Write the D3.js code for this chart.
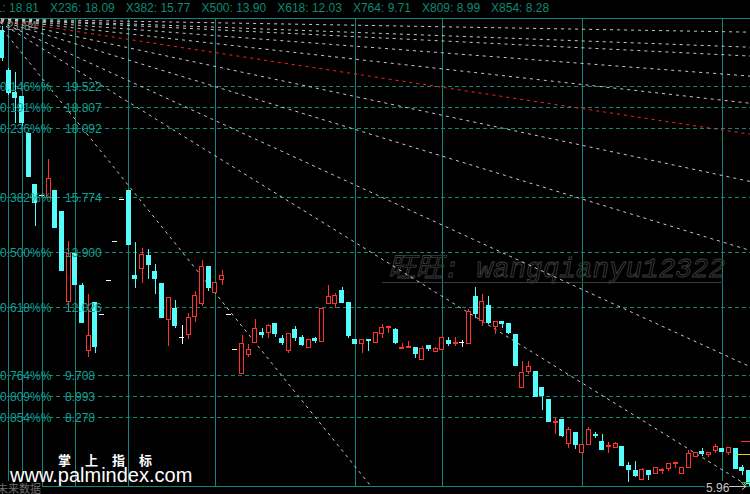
<!DOCTYPE html>
<html><head><meta charset="utf-8">
<script src="https://cdn.jsdelivr.net/npm/d3@7"></script>
<style>html,body{margin:0;padding:0;background:#000;overflow:hidden}</style>
</head><body>
<svg id="c" width="750" height="494"></svg>
<script>
// ---------------- DATA ----------------
const opens  = [21.43,20.07,19.33,19.19,17.93,16.20,15.83,15.76,16.00,15.28,12.23,13.86,12.77,10.56,12.19,11.79,12.94,14.27,15.69,16.00,
13.11,13.35,13.79,13.25,12.84,11.62,11.99,11.00,11.11,11.72,12.16,13.42,12.53,12.97,11.79,10.60,9.78,10.43,10.83,11.17,
11.17,11.48,10.97,10.56,11.28,11.00,10.66,10.97,10.87,12.16,12.16,12.60,12.19,10.94,10.80,10.94,10.83,11.14,11.34,11.28,
10.63,10.66,10.66,10.26,10.73,10.53,10.60,10.90,10.80,10.83,10.80,12.40,11.58,12.09,11.38,11.55,11.48,11.11,9.31,9.85,
9.85,9.31,8.90,8.12,8.22,7.40,7.78,7.10,7.37,7.71,7.47,7.30,7.27,7.30,6.66,6.49,6.18,6.49,6.38,6.49,
6.55,6.72,6.38,6.59,6.96,7.13,7.03,7.17,7.23,7.10,7.23,6.59,6.49];
const highs  = [21.57,20.14,20.01,19.19,17.93,16.20,15.83,17.05,16.00,15.28,14.27,13.89,12.84,12.47,12.19,11.79,12.94,14.27,15.69,16.00,
14.23,14.03,13.99,13.48,12.84,12.36,12.26,11.41,11.82,12.57,13.62,13.42,12.87,13.28,11.79,10.60,11.07,10.77,11.62,11.31,
11.45,11.48,11.07,11.14,11.38,11.07,10.94,11.00,11.99,12.77,12.50,12.70,12.19,10.94,10.94,10.94,11.17,11.45,11.38,11.31,
10.80,10.87,10.66,10.70,10.73,10.66,11.00,11.00,11.00,10.90,11.96,12.70,12.47,12.40,11.55,11.55,11.48,11.11,10.19,10.19,
9.85,9.31,8.90,8.29,8.22,7.95,7.78,7.37,7.95,7.78,7.71,7.44,7.44,7.30,6.76,6.79,6.55,6.49,6.59,6.55,
6.72,6.76,6.59,7.17,7.10,7.23,7.10,7.37,7.23,7.27,7.23,6.66,6.49];
const lows   = [20.41,19.26,18.31,18.21,16.47,14.81,15.83,15.76,14.74,13.28,11.92,12.80,11.51,10.36,10.49,11.79,12.94,14.27,15.69,14.16,
12.70,12.87,13.01,12.50,11.68,10.73,11.34,10.80,10.97,11.55,12.09,12.60,12.53,12.80,11.79,10.60,9.78,10.36,10.83,11.00,
11.00,11.04,10.77,10.49,10.90,10.73,10.66,10.83,10.87,12.16,12.02,12.19,11.00,10.80,10.49,10.56,10.83,11.00,11.17,10.80,
10.63,10.66,10.32,10.26,10.56,10.53,10.60,10.73,10.73,10.70,10.80,11.68,11.41,11.48,11.14,11.34,11.14,10.05,9.31,9.78,
9.00,8.56,8.15,7.74,7.64,7.27,7.23,7.10,7.37,7.61,7.20,7.10,7.27,6.66,6.11,6.28,6.18,6.18,6.38,6.38,
6.49,6.59,6.38,6.59,6.96,7.00,6.96,7.10,7.13,7.03,6.55,6.35,5.96];
const closes = [20.52,19.33,19.16,18.31,16.47,15.59,15.83,16.41,14.74,13.28,13.86,12.80,11.51,11.07,10.70,11.79,12.94,14.27,15.69,14.16,
13.01,13.82,13.48,13.01,11.68,12.36,11.41,11.00,11.68,12.43,13.42,12.70,12.87,13.11,11.79,10.60,10.80,10.60,11.31,11.11,
11.41,11.14,10.83,11.14,11.00,10.77,10.94,10.90,11.99,12.40,12.43,12.19,11.07,10.80,10.94,10.90,11.17,11.34,11.38,10.83,
10.66,10.70,10.46,10.63,10.63,10.63,11.00,10.80,10.83,10.83,11.89,11.82,12.23,11.51,11.55,11.48,11.17,10.05,9.82,10.02,
9.00,9.03,8.15,8.15,7.68,7.88,7.37,7.37,7.88,7.68,7.20,7.34,7.40,6.66,6.52,6.32,6.52,6.35,6.59,6.52,
6.72,6.76,6.59,7.06,7.10,7.06,7.10,7.30,7.13,7.27,6.55,6.49,6.05];

const rangeHigh = 21.84;
const rangeLow  = 5.96;
const fibRatios = [0.146,0.191,0.236,0.382,0.500,0.618,0.764,0.809,0.854];
const fibValues = [19.522,18.807,18.092,15.774,13.900,12.026,9.708,8.993,8.278];

const headerLabels = ["X191","X236","X382","X500","X618","X764","X809","X854"];
const headerValues = [18.81,18.09,15.77,13.90,12.03,9.71,8.99,8.28];

const timeZoneBars = [1,3,6,11,19,32,53,66,87,108];

const fanOriginBar = -1.1, fanOriginPrice = 21.81;
const fanEndPrices = [21.36,20.85,20.55,19.87,18.95,17.90,16.30,13.96,10.02,5.94,-9.97]; // price at last bar
const fanIsRed     = [false,false,false,false,false,true,false,false,false,false,false];

const markerPrices = [7.47,7.03,6.08];
const markerColors = ["#ff2a2a","#d8d800","#10d010"];

// ---------------- CHART ----------------
const W=750,H=494, plotTop=18, plotBottom=486;
const svg=d3.select('#c');
svg.append('rect').attr('width',W).attr('height',H).attr('fill','#000');
const x=d3.scaleLinear().domain([0,112]).range([1.5,748.5]);
const y=d3.scaleLinear().domain([rangeHigh,rangeLow]).range([18,485.5]);
const px=v=>Math.round(v)+0.5;
const defs=svg.append('defs');
defs.append('clipPath').attr('id','plot').append('rect')
  .attr('x',0).attr('y',plotTop).attr('width',W).attr('height',plotBottom-plotTop);

const gridCol='#11877b';
// fib level dashed lines
svg.append('g').selectAll('line').data(fibValues).join('line')
  .attr('x1',0).attr('x2',W).attr('y1',d=>px(y(d))).attr('y2',d=>px(y(d)))
  .attr('stroke',gridCol).attr('stroke-dasharray','4,3').attr('shape-rendering','crispEdges');
// time zone vertical lines
svg.append('g').selectAll('line').data(timeZoneBars).join('line')
  .attr('x1',d=>px(x(d))).attr('x2',d=>px(x(d))).attr('y1',plotTop).attr('y2',plotBottom)
  .attr('stroke',gridCol).attr('shape-rendering','crispEdges');
// frame lines
svg.append('line').attr('x1',0).attr('x2',W).attr('y1',18.5).attr('y2',18.5).attr('stroke',gridCol).attr('shape-rendering','crispEdges');
svg.append('line').attr('x1',0).attr('x2',W).attr('y1',486.5).attr('y2',486.5).attr('stroke',gridCol).attr('shape-rendering','crispEdges');

// watermark outline text
const wm=svg.append('g');
wm.append('text').attr('x',388).attr('y',277)
  .attr('font-family','"Liberation Mono","Noto Sans CJK SC",monospace').attr('font-style','italic')
  .attr('font-size',28).attr('fill','none').attr('stroke','#3e3e3e').attr('stroke-width',0.9)
  .attr('textLength',337).attr('lengthAdjust','spacingAndGlyphs')
  .text('旺旺: wangqianyu12322');
wm.append('line').attr('x1',382).attr('x2',723).attr('y1',282.5).attr('y2',282.5).attr('stroke','#3a3a3a');

// fan lines
const fanG=svg.append('g').attr('clip-path','url(#plot)');
const fanLine=d3.line().x(d=>x(d[0])).y(d=>y(d[1]));
fanEndPrices.forEach((p,i)=>{
  const slope=(p-fanOriginPrice)/(112-fanOriginBar);
  const pts=[[fanOriginBar,fanOriginPrice],[113,fanOriginPrice+slope*(113-fanOriginBar)]];
  fanG.append('path').attr('d',fanLine(pts)).attr('fill','none')
    .attr('stroke',fanIsRed[i]?'#ff2020':'#c8c8c8').attr('stroke-width',1)
    .attr('stroke-dasharray','3,4');
});

// candles
const up='#ff3232', down='#54fcfc';
const cg=svg.append('g').attr('clip-path','url(#plot)').attr('shape-rendering','crispEdges');
d3.range(opens.length).forEach(i=>{
  const o=opens[i],h=highs[i],l=lows[i],c=closes[i];
  const cx=x(i), wx=px(cx), bl=Math.round(cx-2.5);
  const yo=Math.round(y(o)), yc=Math.round(y(c)), yh=Math.round(y(h)), yl=Math.round(y(l));
  if(o===c){
    cg.append('line').attr('x1',wx).attr('x2',wx).attr('y1',yh).attr('y2',yl+1).attr('stroke','#fff');
    cg.append('line').attr('x1',bl).attr('x2',bl+5).attr('y1',yo+0.5).attr('y2',yo+0.5).attr('stroke','#fff');
  } else if(c>o){
    const top=yc, bot=yo;
    cg.append('line').attr('x1',wx).attr('x2',wx).attr('y1',yh).attr('y2',top).attr('stroke',up);
    cg.append('line').attr('x1',wx).attr('x2',wx).attr('y1',bot+1).attr('y2',yl+1).attr('stroke',up);
    cg.append('rect').attr('x',bl+0.5).attr('y',top+0.5).attr('width',4).attr('height',Math.max(1,bot-top))
      .attr('fill','#000').attr('stroke',up);
  } else {
    const top=yo, bot=yc;
    cg.append('line').attr('x1',wx).attr('x2',wx).attr('y1',yh).attr('y2',yl+1).attr('stroke',down);
    cg.append('rect').attr('x',bl).attr('y',top).attr('width',5).attr('height',Math.max(2,bot-top+1)).attr('fill',down);
  }
});

// fib labels
const lbl=svg.append('g').attr('font-family','"Liberation Sans",Arial,sans-serif').attr('font-size',12).attr('fill','#0fa094');
lbl.selectAll('text.r').data(fibRatios).join('text').attr('class','r')
  .attr('x',0).attr('y',(d,i)=>Math.round(y(fibValues[i]))+5).text(d=>d3.format('.3f')(d)+'%%');
lbl.selectAll('text.v').data(fibValues).join('text').attr('class','v')
  .attr('x',65).attr('y',d=>Math.round(y(d))+5).text(d=>d3.format('.3f')(d));

// top-left label of range high
svg.append('text').attr('x',7).attr('y',30).attr('font-family','"Liberation Sans",Arial,sans-serif')
  .attr('font-size',12).attr('fill','#8a8a8a').text(d3.format('.2f')(rangeHigh));

// header
const hg=svg.append('g').attr('font-family','"Liberation Sans",Arial,sans-serif').attr('font-size',12).attr('fill','#0b8a72');
let cursor=50; const gap=11;
const items=headerLabels.map((l,i)=>l+': '+d3.format('.2f')(headerValues[i]));
const t0=hg.append('text').attr('y',12).text(items[0]);
t0.attr('x',cursor-gap-t0.node().getComputedTextLength());
items.slice(1).forEach(s=>{
  const t=hg.append('text').attr('x',cursor).attr('y',12).text(s);
  cursor+=t.node().getComputedTextLength()+gap;
});

// right side markers
svg.append('g').selectAll('line').data(markerPrices).join('line')
  .attr('x1',(d,i)=>i===1?735:741).attr('x2',W).attr('y1',d=>px(y(d))).attr('y2',d=>px(y(d)))
  .attr('stroke',(d,i)=>markerColors[i]).attr('stroke-width',1).attr('shape-rendering','crispEdges');

// last low price label + arrow
const lowTxt=d3.format('.2f')(d3.min(lows));
svg.append('rect').attr('x',705).attr('y',481).attr('width',24).attr('height',13).attr('fill','#000');
svg.append('text').attr('x',706).attr('y',492).attr('font-family','"Liberation Sans",Arial,sans-serif')
  .attr('font-size',12).attr('fill','#c8c8c8').text(lowTxt);
svg.append('path').attr('d','M729,486.5H746M742,483.5L746,486.5L742,489.5').attr('stroke','#c8c8c8').attr('fill','none');

// bottom-left text
svg.append('rect').attr('x',0).attr('y',481).attr('width',42).attr('height',13).attr('fill','#000');
svg.append('text').attr('x',-3).attr('y',493).attr('font-family','"Noto Sans CJK SC",sans-serif')
  .attr('font-size',11).attr('fill','#6e6e6e').text('未来数据');

// site watermark
svg.append('text').attr('x',58).attr('y',465).attr('font-family','"Noto Sans CJK SC",sans-serif')
  .attr('font-size',13).attr('font-weight','bold').attr('fill','#fff').attr('letter-spacing',14).text('掌上指标');
svg.append('text').attr('x',10).attr('y',482).attr('font-family','"Liberation Sans",Arial,sans-serif')
  .attr('font-size',20).attr('fill','#fff').text('www.palmindex.com');
</script>
</body></html>
